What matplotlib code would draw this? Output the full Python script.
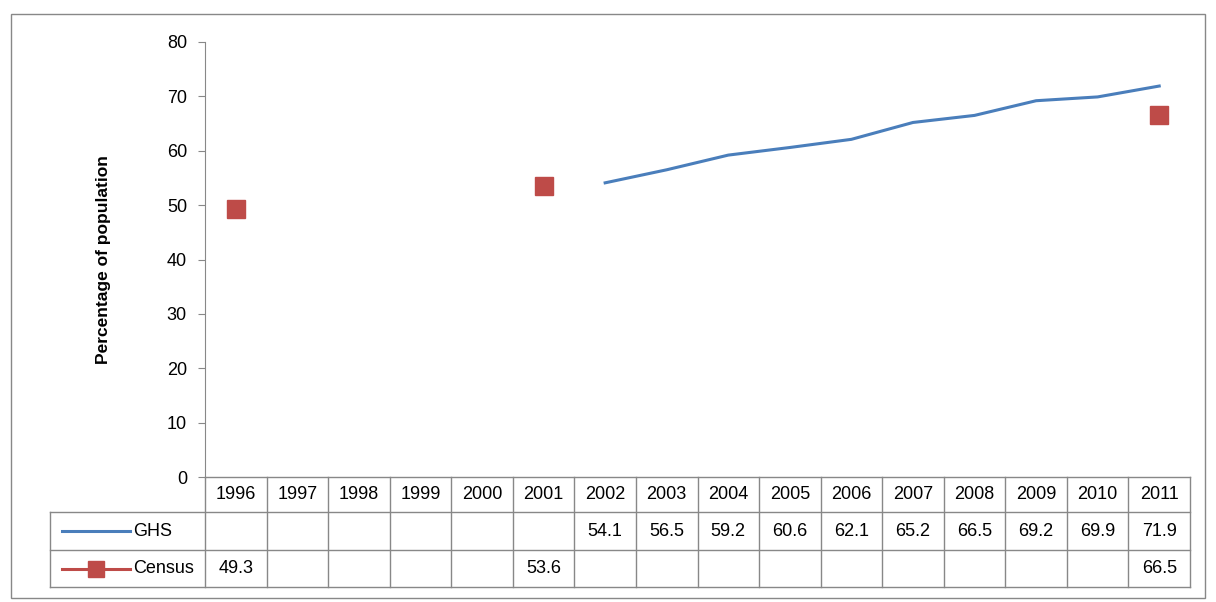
import matplotlib.pyplot as plt
import matplotlib.transforms as mtransforms
from matplotlib.lines import Line2D

years = [str(y) for y in range(1996, 2012)]
ghs_years = years[6:]
ghs = [54.1, 56.5, 59.2, 60.6, 62.1, 65.2, 66.5, 69.2, 69.9, 71.9]
census_years = ['1996', '2001', '2011']
census = [49.3, 53.6, 66.5]

W, H = 1216, 602
plt.rcParams['font.family'] = ['Liberation Sans', 'DejaVu Sans']

fig = plt.figure(figsize=(W / 100, H / 100), dpi=100)

def fx(px):
    return px / W

def fy(py):
    return 1 - py / H

# outer chart border
fig.add_artist(plt.Rectangle((fx(11), fy(598)), fx(1205) - fx(11), fy(14) - fy(598),
                             transform=fig.transFigure, fill=False, ec='#888888', lw=1))

ax = fig.add_axes([fx(205), fy(477), fx(1190) - fx(205), fy(42) - fy(477)])
idx = {y: i for i, y in enumerate(years)}
ax.plot([idx[y] for y in ghs_years], ghs, color='#4a7ebb', lw=2.2)
ax.plot([idx[y] for y in census_years], census, ls='none', marker='s',
        ms=13, color='#be4b48')
ax.set_xlim(-0.5, len(years) - 0.5)
ax.set_ylim(0, 80)
ax.set_yticks(range(0, 81, 10))
ax.tick_params(axis='y', labelsize=13, length=5, color='#888888', pad=8)
ax.set_xticks([])
for s in ['top', 'right', 'bottom']:
    ax.spines[s].set_visible(False)
ax.spines['left'].set_color('#888888')
ax.set_ylabel('Percentage of population', fontsize=12.5, fontweight='bold', labelpad=40)

# data table
tr = mtransforms.blended_transform_factory(ax.transData, fig.transFigure)
row_y = [477, 512, 550, 587]
line_kw = dict(color='#888888', lw=1)
for py in row_y:
    x0 = 50 if py != 477 else 205
    fig.add_artist(Line2D([fx(x0), fx(1190)], [fy(py), fy(py)], transform=fig.transFigure, **line_kw))
fig.add_artist(Line2D([fx(50), fx(50)], [fy(512), fy(587)], transform=fig.transFigure, **line_kw))
for i in range(len(years) + 1):
    fig.add_artist(Line2D([i - 0.5, i - 0.5], [fy(477), fy(587)], transform=tr, **line_kw))

mid = [(row_y[k] + row_y[k + 1]) / 2 for k in range(3)]
for y in years:
    fig.text(idx[y], fy(mid[0]), y, transform=tr, ha='center', va='center', fontsize=13)
for y, v in zip(ghs_years, ghs):
    fig.text(idx[y], fy(mid[1]), f'{v:.1f}', transform=tr, ha='center', va='center', fontsize=13)
for y, v in zip(census_years, census):
    fig.text(idx[y], fy(mid[2]), f'{v:.1f}', transform=tr, ha='center', va='center', fontsize=13)

# legend keys in table
fig.add_artist(Line2D([fx(62), fx(130)], [fy(mid[1])] * 2, transform=fig.transFigure,
                      color='#4a7ebb', lw=2.2))
fig.text(fx(133), fy(mid[1]), 'GHS', ha='left', va='center', fontsize=13)
fig.add_artist(Line2D([fx(62), fx(130)], [fy(mid[2])] * 2, transform=fig.transFigure,
                      color='#be4b48', lw=2.2))
fig.add_artist(Line2D([fx(96)], [fy(mid[2])], transform=fig.transFigure,
                      color='#be4b48', marker='s', ms=11))
fig.text(fx(133), fy(mid[2]), 'Census', ha='left', va='center', fontsize=13)

fig.savefig('out.png', dpi=100)
